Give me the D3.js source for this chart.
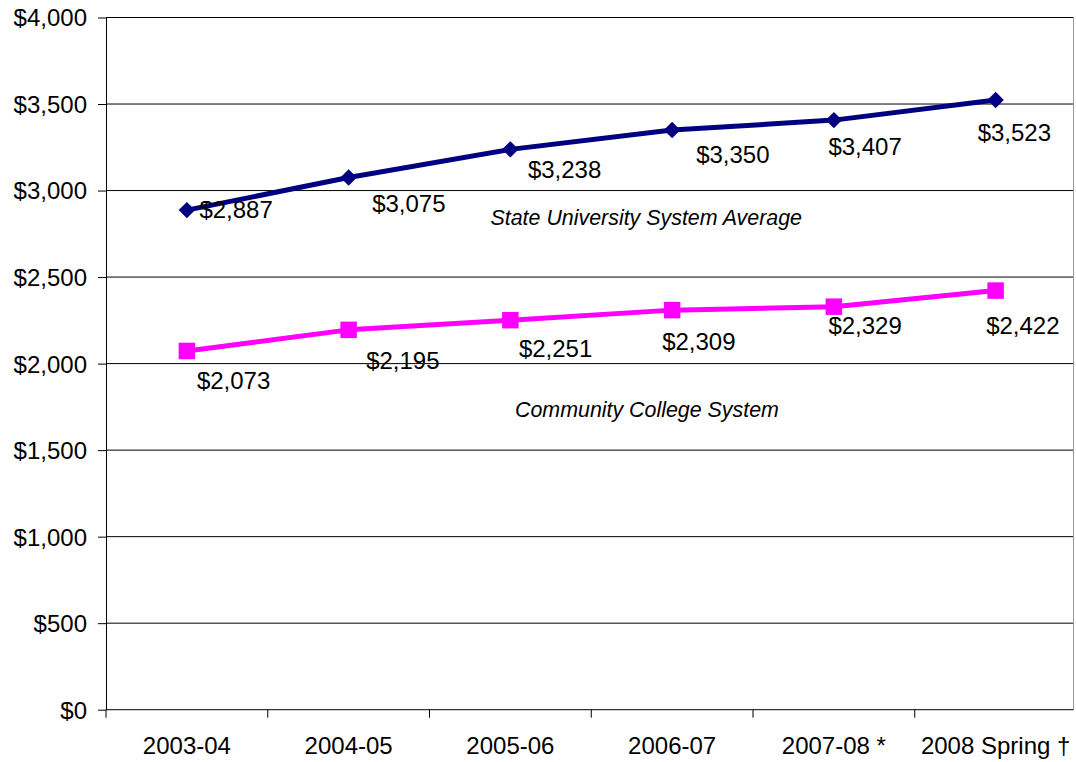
<!DOCTYPE html>
<html>
<head>
<meta charset="utf-8">
<script src="https://cdn.jsdelivr.net/npm/d3@7"></script>
<style>
  html, body { margin: 0; padding: 0; background: #fff; }
  svg { display: block; }
  text { font-family: "Liberation Sans", Arial, sans-serif; fill: #000; }
</style>
</head>
<body>
<svg id="chart" width="1076" height="762"></svg>
<script>
// ---- data ----
const categories = ["2003-04", "2004-05", "2005-06", "2006-07", "2007-08 *", "2008 Spring \u2020"];
const universityValues = [2887, 3075, 3238, 3350, 3407, 3523];
const collegeValues = [2073, 2195, 2251, 2309, 2329, 2422];
const yTicks = [0, 500, 1000, 1500, 2000, 2500, 3000, 3500, 4000];
const seriesNames = ["State University System Average", "Community College System"];

// ---- layout (label nudges relative to each point) ----
const universityLabelNudge = [[12.5, 8], [23.5, 34], [17.5, 28.5], [24, 33.5], [-5.5, 34.5], [-18, 41]];
const collegeLabelNudge = [[10, 38], [17.5, 39], [8.5, 37], [-10, 40], [-5.5, 27], [-9.5, 43.5]];

(function () {
const svg = d3.select("#chart");
const pLeft = 106, pRight = 1076.5, pTop = 17.5, pBottom = 709.7, borderX = 1073.5;
const fs = "24px";

const x = d3.scaleBand().domain(categories).range([pLeft, pRight]);
const y = d3.scaleLinear().domain([0, 4000]).range([pBottom, pTop]);
const fmt = v => "$" + d3.format(",")(v);

// gridlines
svg.append("g").selectAll("line").data(yTicks.filter(d => d > 0)).join("line")
  .attr("x1", pLeft).attr("x2", borderX)
  .attr("y1", d => y(d)).attr("y2", d => y(d))
  .attr("stroke", "#000").attr("stroke-width", 1);

// right border
svg.append("line").attr("x1", borderX).attr("x2", borderX).attr("y1", pTop).attr("y2", pBottom)
  .attr("stroke", "#999").attr("stroke-width", 1);

// y axis
const yAxis = svg.append("g").attr("transform", `translate(${pLeft},0)`)
  .call(d3.axisLeft(y).tickValues(yTicks).tickSize(8).tickPadding(11).tickFormat(fmt).tickSizeOuter(0));
yAxis.select(".domain").attr("stroke", "#000");
yAxis.selectAll(".tick line").attr("stroke", "#000");
yAxis.selectAll(".tick text").attr("font-size", fs).attr("font-family", "Liberation Sans, Arial, sans-serif")
  .attr("fill", "#000").attr("dy", "0.35em");

// x axis
const xAxis = svg.append("g").attr("transform", `translate(0,${pBottom})`)
  .call(d3.axisBottom(x).tickSize(0).tickPadding(27).tickSizeOuter(0));
xAxis.select(".domain").attr("stroke", "#000").attr("d", `M${pLeft},0H${borderX}`);
xAxis.selectAll(".tick text").attr("font-size", fs).attr("font-family", "Liberation Sans, Arial, sans-serif")
  .attr("fill", "#000");
// category separator ticks
svg.append("g").selectAll("line").data(categories).join("line")
  .attr("x1", d => x(d)).attr("x2", d => x(d))
  .attr("y1", pBottom).attr("y2", pBottom + 8)
  .attr("stroke", "#000").attr("stroke-width", 1);

const line = d3.line().x((d, i) => x(categories[i]) + x.bandwidth() / 2).y(d => y(d));

function drawSeries(values, color, symbolType, symbolSize, rotate, nudges) {
  const g = svg.append("g");
  g.append("path").datum(values).attr("d", line)
    .attr("fill", "none").attr("stroke", color).attr("stroke-width", 5)
    .attr("stroke-linejoin", "round");
  g.selectAll("path.m").data(values).join("path").attr("class", "m")
    .attr("d", d3.symbol(symbolType, symbolSize))
    .attr("transform", (d, i) => `translate(${x(categories[i]) + x.bandwidth() / 2},${y(d)}) rotate(${rotate})`)
    .attr("fill", color);
  g.selectAll("text").data(values).join("text")
    .attr("x", (d, i) => x(categories[i]) + x.bandwidth() / 2 + nudges[i][0])
    .attr("y", (d, i) => y(d) + nudges[i][1])
    .attr("font-size", fs)
    .text(fmt);
}

drawSeries(universityValues, "#000080", d3.symbolSquare, 135, 45, universityLabelNudge);
drawSeries(collegeValues, "#FF00FF", d3.symbolSquare, 272, 0, collegeLabelNudge);

// series name annotations
svg.append("text").attr("x", 490.5).attr("y", 224.5).attr("font-size", "21.4px")
  .attr("font-style", "italic").text(seriesNames[0]);
svg.append("text").attr("x", 515).attr("y", 416.5).attr("font-size", "21.4px")
  .attr("font-style", "italic").text(seriesNames[1]);
})();
</script>
</body>
</html>
